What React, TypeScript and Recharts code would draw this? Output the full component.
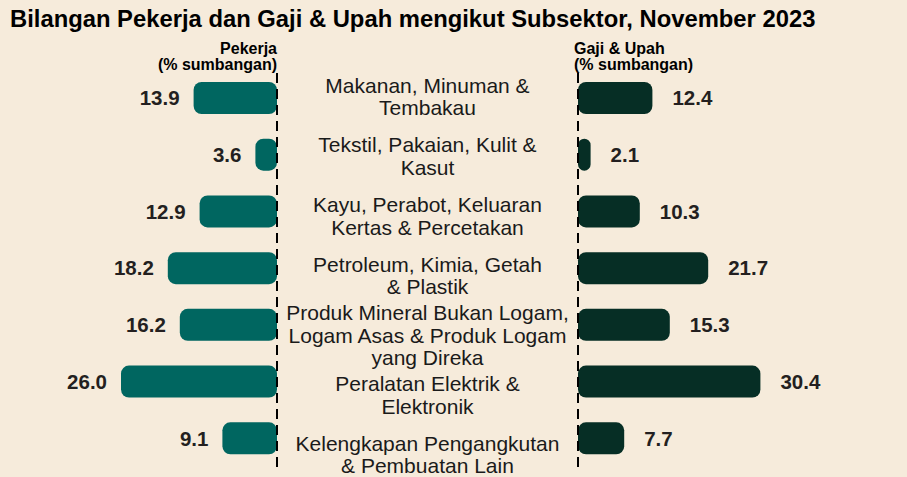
import { BarChart, Bar, XAxis, YAxis, ReferenceLine, LabelList } from 'recharts';

const categories = [
    'Makanan, Minuman &\nTembakau',
    'Tekstil, Pakaian, Kulit &\nKasut',
    'Kayu, Perabot, Keluaran\nKertas & Percetakan',
    'Petroleum, Kimia, Getah\n& Plastik',
    'Produk Mineral Bukan Logam,\nLogam Asas & Produk Logam\nyang Direka',
    'Peralatan Elektrik &\nElektronik',
    'Kelengkapan Pengangkutan\n& Pembuatan Lain',
];
const pekerja = [13.9, 3.6, 12.9, 18.2, 16.2, 26.0, 9.1];
const gajiUpah = [12.4, 2.1, 10.3, 21.7, 15.3, 30.4, 7.7];

const data = categories.map((name, i) => ({
    name,
    pekerja: pekerja[i],
    gaji: gajiUpah[i],
}));

const BG = '#f6ebdb';
const TEAL = '#006660';
const DARK = '#062e25';
const TEXT = '#231f20';
const FONT = '"Liberation Sans", Arial, sans-serif';
const MARGIN = { top: 70, right: 0, bottom: 10, left: 0 };
const PX_PER_UNIT = 6;

// center labels, broken on '\n'
function CategoryTick(props: any) {
    const { x, y, payload, index } = props;
    const lines = String(payload.value).split('\n');
    const lh = 22.5;
    const shift = index * 3 - 2;
    const cx = x - 150.5;
    return (
        <text x={cx} y={y} textAnchor="middle" fill="#1a1a1a" fontSize={21} fontFamily={FONT}>
            {lines.map((l, k) => (
                <tspan key={k} x={cx} y={y + shift + 7.5 - ((lines.length - 1) * lh) / 2 + k * lh}>
                    {l}
                </tspan>
            ))}
        </text>
    );
}

function LeftValue(props: any) {
    const { x, y, width, height, value } = props;
    const left = Math.min(x, x + width);
    return (
        <text x={left - 14} y={y + height / 2 + 7.3} textAnchor="end" fontSize={20.5} fontWeight={700} fill={TEXT} fontFamily={FONT}>
            {Number(value).toFixed(1)}
        </text>
    );
}

function RightValue(props: any) {
    const { x, y, width, height, value } = props;
    const right = Math.max(x, x + width);
    return (
        <text x={right + 20} y={y + height / 2 + 7.3} textAnchor="start" fontSize={20.5} fontWeight={700} fill={TEXT} fontFamily={FONT}>
            {Number(value).toFixed(1)}
        </text>
    );
}

export default function App() {
    const leftW = 280;
    const leftPlot = 277;
    const rightW = 630;
    const axisW = 301;
    const rightPlot = rightW - axisW;

    const headerStyle = {
        position: 'absolute' as const,
        top: 41,
        fontSize: 16,
        fontWeight: 700,
        lineHeight: '16px',
        color: '#000',
        whiteSpace: 'nowrap' as const,
    };

    return (
        <div style={{
            position: 'absolute',
            left: 0,
            top: 0,
            width: 907,
            height: 477,
            background: BG,
            fontFamily: FONT,
            overflow: 'hidden',
        }}>
            <div style={{
                position: 'absolute',
                left: 10,
                top: 5,
                fontSize: 23.8,
                lineHeight: '27px',
                fontWeight: 700,
                color: '#000',
                whiteSpace: 'nowrap',
            }}>
                Bilangan Pekerja dan Gaji &amp; Upah mengikut Subsektor, November 2023
            </div>

            <div style={{ ...headerStyle, right: 907 - 277, textAlign: 'right' }}>
                Pekerja<br />(% sumbangan)
            </div>
            <div style={{ ...headerStyle, left: 574, textAlign: 'left' }}>
                Gaji &amp; Upah<br />(% sumbangan)
            </div>

            {/* Pekerja */}
            <div style={{ position: 'absolute', left: 0, top: 0 }}>
                <BarChart width={leftW} height={477} data={data} layout="vertical"
                    margin={{ ...MARGIN, right: leftW - leftPlot }}>
                    <XAxis type="number" reversed hide domain={[0, leftPlot / PX_PER_UNIT]} />
                    <YAxis type="category" dataKey="name" hide />
                    <Bar dataKey="pekerja" fill={TEAL} barSize={32} radius={8} isAnimationActive={false}>
                        <LabelList dataKey="pekerja" content={LeftValue} />
                    </Bar>
                    <ReferenceLine x={0} stroke="#000" strokeWidth={2} strokeDasharray="10 6" ifOverflow="visible" />
                </BarChart>
            </div>

            {/* Gaji & Upah, with the subsector labels as its axis */}
            <div style={{ position: 'absolute', left: 277, top: 0 }}>
                <BarChart width={rightW} height={477} data={data} layout="vertical" margin={MARGIN}>
                    <XAxis type="number" hide domain={[0, rightPlot / PX_PER_UNIT]} />
                    <YAxis type="category" dataKey="name" width={axisW} axisLine={false} tickLine={false}
                        tickSize={0} tickMargin={0} interval={0} tick={CategoryTick} />
                    <Bar dataKey="gaji" fill={DARK} barSize={32} radius={8} isAnimationActive={false}>
                        <LabelList dataKey="gaji" content={RightValue} />
                    </Bar>
                    <ReferenceLine x={0} stroke="#000" strokeWidth={2} strokeDasharray="10 6" ifOverflow="visible" />
                </BarChart>
            </div>
        </div>
    );
}
